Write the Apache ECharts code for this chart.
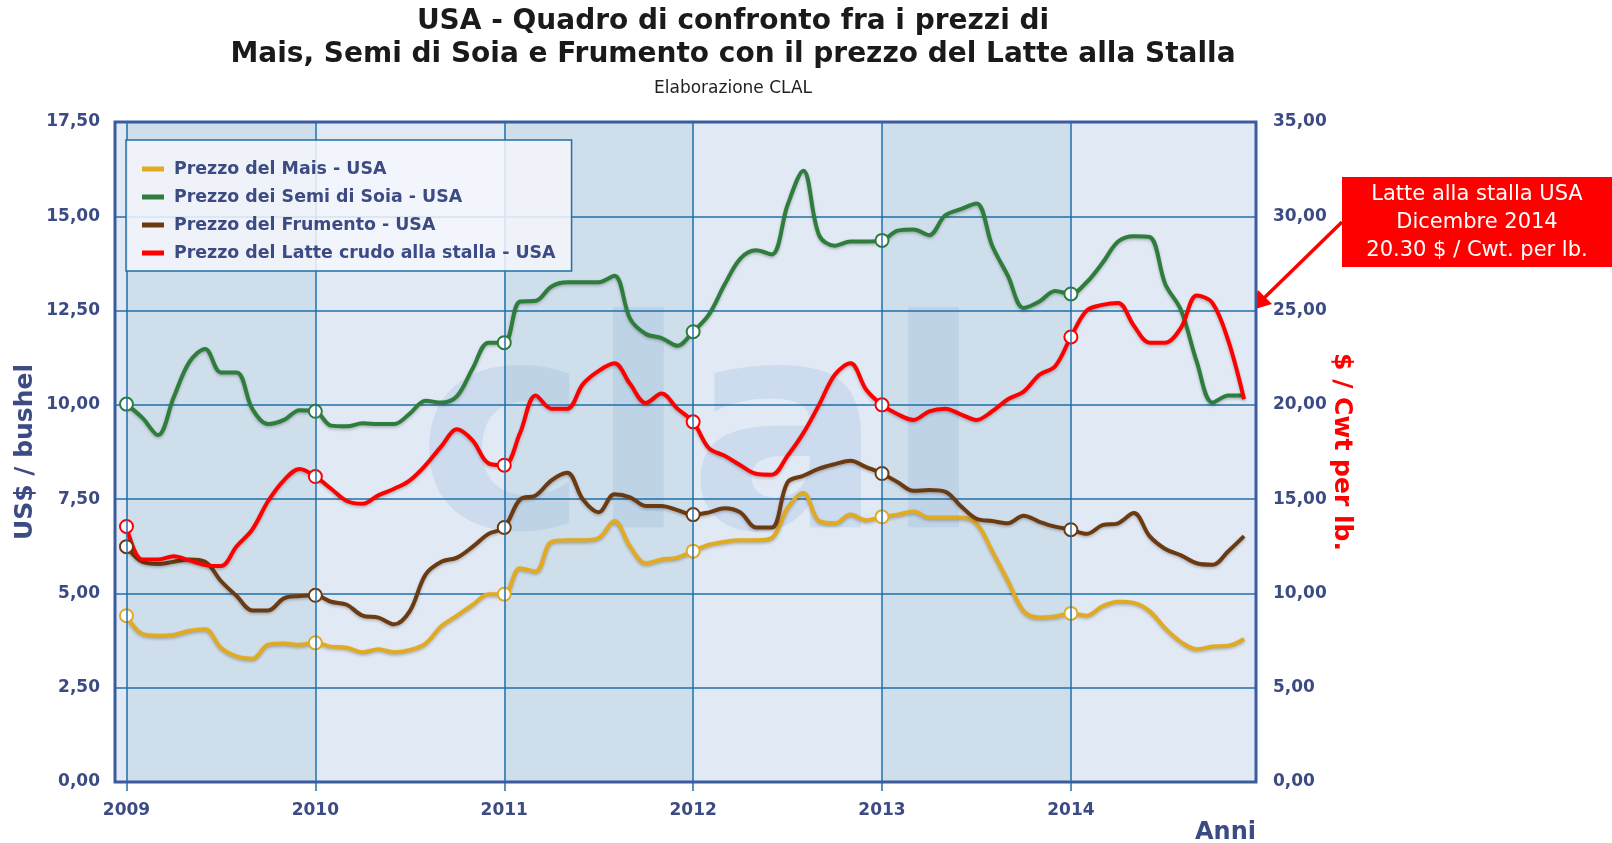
<!DOCTYPE html>
<html>
<head>
<meta charset="utf-8">
<title>USA - Mais, Soia, Frumento e Latte alla stalla</title>
<script src="https://cdn.jsdelivr.net/npm/echarts@6/dist/echarts.min.js"></script>
<style>
    html, body { margin: 0; padding: 0; background: #fff; }
    #chart { width: 1612px; height: 843px; }
</style>
</head>
<body>
<div id="chart"></div>
<script>
// mesi da gennaio 2009 a dicembre 2014, un valore al mese
var anni = ['2009', '2010', '2011', '2012', '2013', '2014'];
var tickAnni = [0, 12, 24, 36, 48, 60];

// US$ / bushel
var mais = [
    4.41, 3.93, 3.88, 3.90, 4.01, 4.05, 3.56, 3.33, 3.27, 3.64, 3.67, 3.64,
    3.69, 3.59, 3.56, 3.44, 3.52, 3.44, 3.50, 3.67, 4.13, 4.41, 4.70, 4.98,
    4.98, 5.67, 5.58, 6.37, 6.41, 6.41, 6.47, 6.92, 6.24, 5.80, 5.90, 5.95,
    6.12, 6.29, 6.37, 6.41, 6.41, 6.47, 7.26, 7.66, 6.92, 6.86, 7.09, 6.94,
    7.03, 7.09, 7.17, 7.01, 7.01, 7.01, 6.86, 6.12, 5.33, 4.53, 4.36, 4.39,
    4.47, 4.41, 4.66, 4.78, 4.75, 4.53, 4.07, 3.71, 3.52, 3.59, 3.61, 3.79
];
var soia = [
    10.02, 9.66, 9.20, 10.20, 11.14, 11.48, 10.86, 10.86, 9.89, 9.49, 9.60, 9.86,
    9.83, 9.45, 9.43, 9.51, 9.49, 9.49, 9.77, 10.11, 10.06, 10.23, 10.97, 11.65,
    11.65, 12.74, 12.76, 13.14, 13.25, 13.25, 13.25, 13.42, 12.28, 11.88, 11.77, 11.57,
    11.94, 12.39, 13.19, 13.88, 14.10, 13.99, 15.30, 16.21, 14.50, 14.22, 14.33, 14.33,
    14.36, 14.62, 14.65, 14.50, 15.02, 15.19, 15.34, 14.22, 13.42, 12.57, 12.74, 13.02,
    12.94, 13.25, 13.76, 14.33, 14.47, 14.45, 13.20, 12.51, 11.14, 10.06, 10.25, 10.25
];
var frumento = [
    6.24, 5.84, 5.78, 5.84, 5.90, 5.84, 5.33, 4.93, 4.55, 4.55, 4.87, 4.93,
    4.95, 4.78, 4.70, 4.41, 4.36, 4.18, 4.53, 5.50, 5.84, 5.95, 6.24, 6.58,
    6.75, 7.49, 7.60, 8.00, 8.20, 7.49, 7.15, 7.63, 7.55, 7.32, 7.32, 7.21,
    7.09, 7.15, 7.26, 7.15, 6.75, 6.75, 7.95, 8.12, 8.31, 8.43, 8.52, 8.35,
    8.18, 7.95, 7.72, 7.74, 7.70, 7.32, 6.98, 6.92, 6.86, 7.06, 6.90, 6.77,
    6.69, 6.58, 6.81, 6.86, 7.13, 6.52, 6.18, 6.01, 5.80, 5.76, 6.12, 6.52
];
// $ / Cwt
var latte = [
    13.55, 11.80, 11.80, 11.97, 11.75, 11.50, 11.45, 12.50, 13.40, 14.90, 16.00, 16.60,
    16.20, 15.55, 14.90, 14.75, 15.20, 15.55, 16.00, 16.80, 17.80, 18.70, 18.10, 16.90,
    16.80, 18.50, 20.50, 19.80, 19.80, 21.10, 21.80, 22.20, 21.10, 20.10, 20.60, 19.80,
    19.10, 17.70, 17.30, 16.80, 16.35, 16.30, 17.30, 18.50, 20.00, 21.60, 22.20, 20.80,
    20.00, 19.50, 19.20, 19.66, 19.80, 19.50, 19.20, 19.66, 20.30, 20.70, 21.60, 22.05,
    23.60, 25.00, 25.30, 25.40, 24.20, 23.30, 23.30, 24.10, 25.80, 25.40, 23.40, 20.30
];

var nomi = [
    'Prezzo del Mais - USA',
    'Prezzo dei Semi di Soia - USA',
    'Prezzo del Frumento - USA',
    'Prezzo del Latte crudo alla stalla - USA'
];
var colori = ['#e0aa22', '#2e7d3c', '#6b3a10', '#ff0000'];

var X_MIN = -0.73;
var X_MAX = 71.76;
var blu = '#3c4b84';
var griglia = '#1f6fa8';
var font = '"DejaVu Sans", Verdana, sans-serif';

function punti(arr) {
    return arr.map(function (v, i) {
        return [i, v];
    });
}

function virgola(v) {
    return v.toFixed(2).replace('.', ',');
}

function serie(nome, dati, colore, asse) {
    return {
        name: nome,
        type: 'line',
        yAxisIndex: asse,
        data: punti(dati),
        smooth: 0.35,
        z: 3,
        symbol: 'emptyCircle',
        showSymbol: true,
        showAllSymbol: true,
        // solo i mesi di gennaio hanno il cerchietto
        symbolSize: function (val, p) {
            return p.dataIndex % 12 === 0 ? 13 : 0;
        },
        itemStyle: {color: colore, borderWidth: 3},
        lineStyle: {
            color: colore,
            width: 4,
            shadowColor: 'rgba(0,0,0,0.25)',
            shadowBlur: 3,
            shadowOffsetY: 1.5
        }
    };
}

// fasce alternate dello sfondo
var fasce = [[{xAxis: X_MIN, itemStyle: {color: '#e1e9f4'}}, {xAxis: X_MAX}]];
for (var k = 0; k < tickAnni.length; k += 2) {
    fasce.push([{xAxis: tickAnni[k], itemStyle: {color: '#cfdeeb'}}, {xAxis: tickAnni[k] + 12}]);
}

var chart = echarts.init(document.getElementById('chart'));
var option = {
    animation: false,
    backgroundColor: '#ffffff',
    textStyle: {fontFamily: font},
    grid: {
        left: 115,
        right: 356,
        top: 122,
        bottom: 61,
        show: true,
        z: 4,
        backgroundColor: 'transparent',
        borderColor: '#3a5b9e',
        borderWidth: 3
    },
    legend: {
        orient: 'vertical',
        left: 126,
        top: 140,
        padding: [20, 16, 9, 16],
        itemGap: 10,
        itemWidth: 22,
        itemHeight: 5,
        icon: 'rect',
        backgroundColor: 'rgba(244,247,251,0.85)',
        borderColor: griglia,
        borderWidth: 1.5,
        borderRadius: 0,
        z: 6,
        data: nomi,
        textStyle: {
            color: blu,
            fontWeight: 'bold',
            fontSize: 17.4,
            lineHeight: 18,
            padding: [0, 0, 0, 5],
            fontFamily: font
        }
    },
    xAxis: {
        type: 'value',
        min: X_MIN,
        max: X_MAX,
        z: 2,
        axisLine: {show: false},
        splitLine: {show: false},
        axisTick: {
            show: true,
            customValues: tickAnni,
            length: 9,
            lineStyle: {color: griglia, width: 1.5}
        },
        axisLabel: {
            customValues: tickAnni,
            margin: 20,
            color: blu,
            fontWeight: 'bold',
            fontSize: 17,
            fontFamily: font,
            formatter: function (v) {
                return anni[Math.round(v / 12)];
            }
        }
    },
    yAxis: [{
        type: 'value',
        min: 0,
        max: 17.5,
        interval: 2.5,
        z: 2,
        name: 'US$ / bushel',
        nameLocation: 'middle',
        nameGap: 77,
        nameMoveOverlap: false,
        nameTextStyle: {color: blu, fontWeight: 'bold', fontSize: 25, fontFamily: font},
        axisLine: {show: false},
        axisTick: {show: false},
        axisLabel: {
            margin: 15,
            color: blu,
            fontWeight: 'bold',
            fontSize: 17,
            fontFamily: font,
            formatter: virgola
        },
        splitLine: {lineStyle: {color: griglia, width: 1.5}}
    }, {
        type: 'value',
        min: 0,
        max: 35,
        interval: 5,
        z: 2,
        position: 'right',
        name: '$ / Cwt per lb.',
        nameLocation: 'middle',
        nameGap: 73,
        nameMoveOverlap: false,
        nameRotate: -90,
        nameTextStyle: {color: '#ff0000', fontWeight: 'bold', fontSize: 25, fontFamily: font},
        axisLine: {show: false},
        axisTick: {show: false},
        axisLabel: {
            margin: 17,
            color: blu,
            fontWeight: 'bold',
            fontSize: 17,
            fontFamily: font,
            formatter: virgola
        },
        splitLine: {show: false}
    }],
    series: [{
        name: 'sfondo',
        type: 'line',
        data: [],
        z: 1,
        silent: true,
        markArea: {silent: true, data: fasce},
        markLine: {
            silent: true,
            symbol: 'none',
            label: {show: false},
            lineStyle: {color: griglia, width: 1.5, type: 'solid'},
            data: tickAnni.map(function (t) {
                return {xAxis: t};
            })
        }
    },
        serie(nomi[0], mais, colori[0], 0),
        serie(nomi[1], soia, colori[1], 0),
        serie(nomi[2], frumento, colori[2], 0),
        serie(nomi[3], latte, colori[3], 1)
    ],
    graphic: [{
        // marchio in filigrana
        type: 'text',
        x: 700,
        y: 452,
        z: 2,
        silent: true,
        style: {
            text: 'clal',
            align: 'center',
            verticalAlign: 'middle',
            font: 'bold 290px ' + font,
            fill: 'rgba(150,182,224,0.28)'
        }
    }, {
        type: 'text',
        x: 733,
        y: 22,
        style: {
            text: 'USA - Quadro di confronto fra i prezzi di',
            align: 'center',
            verticalAlign: 'middle',
            font: 'bold 28px ' + font,
            fill: '#1a1a1a'
        }
    }, {
        type: 'text',
        x: 733,
        y: 55,
        style: {
            text: 'Mais, Semi di Soia e Frumento con il prezzo del Latte alla Stalla',
            align: 'center',
            verticalAlign: 'middle',
            font: 'bold 28px ' + font,
            fill: '#1a1a1a'
        }
    }, {
        type: 'text',
        x: 733,
        y: 89,
        style: {
            text: 'Elaborazione CLAL',
            align: 'center',
            verticalAlign: 'middle',
            font: '17px ' + font,
            fill: '#222222'
        }
    }, {
        type: 'text',
        x: 1256,
        y: 833,
        style: {
            text: 'Anni',
            align: 'right',
            verticalAlign: 'middle',
            font: 'bold 24px ' + font,
            fill: blu
        }
    }, {
        // riquadro con l'ultimo prezzo del latte
        type: 'rect',
        shape: {x: 1342, y: 177, width: 270, height: 90},
        style: {fill: '#ff0000'}
    }, {
        type: 'text',
        x: 1477,
        y: 223,
        style: {
            text: 'Latte alla stalla USA\nDicembre 2014\n20.30 $ / Cwt. per lb.',
            align: 'center',
            verticalAlign: 'middle',
            lineHeight: 28,
            font: '21px ' + font,
            fill: '#ffffff'
        }
    }, {
        type: 'line',
        shape: {x1: 1342, y1: 222, x2: 1260, y2: 302},
        style: {stroke: '#ff0000', lineWidth: 3.5}
    }, {
        type: 'polygon',
        shape: {points: [[1252, 310], [1272, 304], [1258, 290]]},
        style: {fill: '#ff0000'}
    }]
};
chart.setOption(option);
</script>
</body>
</html>
